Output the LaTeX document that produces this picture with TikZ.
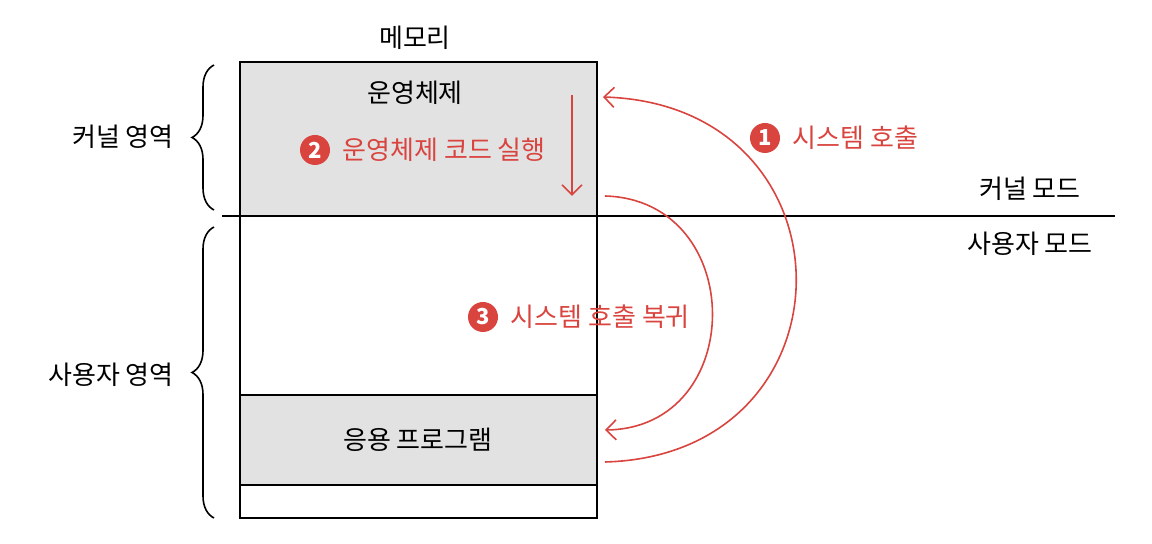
\documentclass[tikz,border=0pt]{standalone}
\usepackage{fontspec}
\setmainfont{Noto Sans CJK KR}
\usepackage{tikz}
\usetikzlibrary{arrows.meta,positioning,calc,decorations.pathreplacing}
\definecolor{callred}{HTML}{D9443F}
\definecolor{memgray}{HTML}{E2E2E2}

\begin{document}
\begin{tikzpicture}[x=0.5pt,y=-0.5pt,font=\fontsize{13}{15}\selectfont,
  lbl/.style={inner sep=1pt},
  redlbl/.style={inner sep=1pt,text=callred},
  num/.style={circle,fill=callred,text=white,inner sep=0pt,minimum size=15pt,font=\fontsize{11}{11}\selectfont\bfseries},
  callarrow/.style={callred,line width=0.8pt,-{Straight Barb[length=5pt,width=10pt]}},
  brc/.style={decorate,decoration={brace,amplitude=11pt},line width=0.8pt}]
  \useasboundingbox (0,0) rectangle (1152,544);
  \fill[memgray] (240,62) rectangle (597,216); % 커널 영역
  \fill[memgray] (240,395) rectangle (597,485); % 응용 프로그램
  \draw[line width=1pt] (240,62) rectangle (597,518); % 메모리 전체
  \draw[line width=0.8pt] (240,395) -- (597,395);
  \draw[line width=0.8pt] (240,485) -- (597,485);
  \draw[line width=0.8pt] (222,216) -- (1115,216); % 커널 모드 / 사용자 모드 경계

  \node[lbl] (mem) at (415,38) {메모리};
  \node[lbl] (os) at (415,93) {운영체제};
  \node[lbl] (app) at (418,440) {응용 프로그램};
  \node[lbl] (kmode) at (1030,189) {커널 모드};
  \node[lbl] (umode) at (1030,244) {사용자 모드};

  % 영역 괄호
  \draw[brc] (214,210) -- (214,65);
  \draw[brc] (214,518) -- (214,227);
  \node[lbl,anchor=east] (karea) at (176,137) {커널 영역};
  \node[lbl,anchor=east] (uarea) at (176,375) {사용자 영역};

  % 1 시스템 호출
  \node[num] (n1) at (765,138) {1};
  \node[redlbl,right=5pt of n1] (call) {시스템 호출};
  \coordinate (c1s) at (605,462);
  \coordinate (c1e) at (603,97);
  \draw[callarrow] (c1s) .. controls (860,455) and (860,105) .. (c1e);

  % 2 운영체제 코드 실행
  \node[num] (n2) at (315,150) {2};
  \node[redlbl,right=5pt of n2] (run) {운영체제 코드 실행};
  \coordinate (c2s) at (572,95);
  \coordinate (c2e) at (572,196);
  \draw[callarrow] (c2s) -- (c2e);

  % 3 시스템 호출 복귀
  \node[num] (n3) at (483,317) {3};
  \node[redlbl,right=5pt of n3] (ret) {시스템 호출 복귀};
  \coordinate (c3s) at (605,196);
  \coordinate (c3e) at (605,430);
  \draw[callarrow] (c3s) .. controls (748,200) and (748,428) .. (c3e);
\end{tikzpicture}
\end{document}
